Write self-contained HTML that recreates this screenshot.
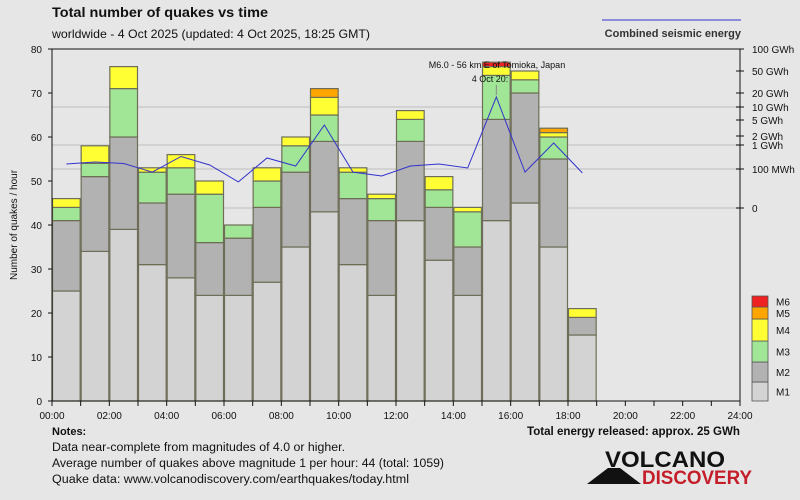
<!DOCTYPE html>
<html><head><meta charset="utf-8"><style>
body{margin:0;background:#e6e6e6;}
svg{display:block;font-family:"Liberation Sans",sans-serif;}
</style></head><body>
<svg id="chart" width="800" height="500" viewBox="0 0 800 500">
<rect width="800" height="500" fill="#e6e6e6"/>
<text x="52" y="17" font-size="13.5" font-weight="bold" fill="#111" textLength="216" lengthAdjust="spacingAndGlyphs">Total number of quakes vs time</text>
<text x="52" y="38" font-size="12" fill="#111" textLength="318" lengthAdjust="spacingAndGlyphs">worldwide -  4 Oct 2025 (updated: 4 Oct 2025, 18:25 GMT)</text>
<line x1="602" y1="20" x2="741" y2="20" stroke="#3333cc" stroke-width="1"/>
<text x="741" y="37" font-size="11" font-weight="bold" fill="#333" text-anchor="end">Combined seismic energy</text>
<text transform="translate(17,225) rotate(-90)" font-size="10" fill="#111" text-anchor="middle">Number of quakes / hour</text>
<g id="grid"></g><g id="bars"></g><g id="energy"></g><g id="axes"></g><g id="legend"></g>
<text x="52" y="435" font-size="11" font-weight="bold" fill="#111">Notes:</text>
<text x="52" y="451" font-size="11.5" fill="#111" textLength="293" lengthAdjust="spacingAndGlyphs">Data near-complete from magnitudes of 4.0 or higher.</text>
<text x="52" y="467" font-size="11.5" fill="#111" textLength="392" lengthAdjust="spacingAndGlyphs">Average number of quakes above magnitude 1 per hour: 44 (total: 1059)</text>
<text x="52" y="483" font-size="11.5" fill="#111" textLength="357" lengthAdjust="spacingAndGlyphs">Quake data: www.volcanodiscovery.com/earthquakes/today.html</text>
<text x="527" y="435" font-size="11.5" font-weight="bold" fill="#111" textLength="213" lengthAdjust="spacingAndGlyphs">Total energy released: approx. 25 GWh</text>
<g>
<polygon points="587,484 608,468 620,468 641,484" fill="#111"/>
<text x="605" y="467" font-size="22" font-weight="bold" fill="#111" textLength="120" lengthAdjust="spacingAndGlyphs">VOLCANO</text>
<text x="642" y="484" font-size="19" font-weight="bold" fill="#c41e2a" textLength="110" lengthAdjust="spacingAndGlyphs">DISCOVERY</text>
</g>
</svg>
<script>
const hours=[0,1,2,3,4,5,6,7,8,9,10,11,12,13,14,15,16,17,18];
const m1=[25,34,39,31,28,24,24,27,35,43,31,24,41,32,24,41,45,35,15];
const m2=[16,17,21,14,19,12,13,17,17,16,15,17,18,12,11,23,25,20,4];
const m3=[3,3,11,7,6,11,3,6,6,6,6,5,5,4,8,10,3,5,0];
const m4=[2,4,5,1,3,3,0,3,2,4,1,1,2,3,1,2,2,1,2];
const m5=[0,0,0,0,0,0,0,0,0,2,0,0,0,0,0,0,0,1,0];
const m6=[0,0,0,0,0,0,0,0,0,0,0,0,0,0,0,1,0,0,0];
const energyMWh=[162,196,170,92,332,147,67,288,133,3757,92,82,133,162,110,16400,92,1167,90];
const yTicks=[0,10,20,30,40,50,60,70,80];
const xTickLabels=["00:00","02:00","04:00","06:00","08:00","10:00","12:00","14:00","16:00","18:00","20:00","22:00","24:00"];
const eTickVals=[0,100,1000,2000,5000,10000,20000,50000,100000];
const eTickLabels=["0","100 MWh","1 GWh","2 GWh","5 GWh","10 GWh","20 GWh","50 GWh","100 GWh"];
const NS="http://www.w3.org/2000/svg";
const X0=52,X1=740,Y0=401,Y1=49;
const eTickPix=[208,169,145,136,120,107,93,71,49];
function xs(h){return X0+(X1-X0)*h/24;}
function ys(v){return Y0-(Y0-Y1)*v/80;}
function ye(v){
  if(v<=100) return eTickPix[0]+(eTickPix[1]-eTickPix[0])*v/100;
  for(let i=1;i<eTickVals.length-1;i++){
    if(v<=eTickVals[i+1]){const a=Math.log10(eTickVals[i]),b=Math.log10(eTickVals[i+1]);
      return eTickPix[i]+(eTickPix[i+1]-eTickPix[i])*(Math.log10(v)-a)/(b-a);}
  }
  return eTickPix[eTickPix.length-1];
}
function mk(p,tag,at){const e=document.createElementNS(NS,tag);for(const k in at)e.setAttribute(k,at[k]);p.appendChild(e);return e;}
const G=id=>document.getElementById(id);
[10000,1000,100,0].forEach(v=>{const l=mk(G('grid'),'line',{x1:X0,x2:X1,y1:ye(v),y2:ye(v),stroke:'#d2d2d2','stroke-width':2});

});
const series=[m1,m2,m3,m4,m5,m6];
const colors=['#d3d3d3','#b2b2b2','#a0e696','#ffff33','#ffa500','#ee2222'];
const snames=['m1','m2','m3','m4','m5','m6'];
const bw=(X1-X0)/24;
hours.forEach((h,i)=>{let c=0;series.forEach((s,k)=>{const v=s[i];if(!v)return;
 const r=mk(G('bars'),'rect',{x:xs(h)+0.5,y:ys(c+v),width:bw-1,height:ys(c)-ys(c+v),fill:colors[k],stroke:'#6e6e58','stroke-width':1.2});
 
 
 c+=v;});});
const pts=hours.map((h,i)=>xs(h+0.5)+','+ye(energyMWh[i])).join(' ');
const pl=mk(G('energy'),'polyline',{points:pts,fill:'none',stroke:'#3333cc','stroke-width':1});


const ax=xs(15.5);
const al=mk(G('energy'),'line',{x1:ax,x2:ax,y1:85,y2:95,stroke:'#888'});


const t1=mk(G('energy'),'text',{x:497,y:68,'font-size':9,'text-anchor':'middle',fill:'#111'});t1.textContent='M6.0 - 56 km E of Tomioka, Japan';


const t2=mk(G('energy'),'text',{x:490,y:82,'font-size':9,'text-anchor':'middle',fill:'#111'});t2.textContent='4 Oct 20:';


const A=G('axes');
[[X0,Y1,X0,Y0],[X0,Y0,X1,Y0],[X0,Y1,X1,Y1],[X1,Y1,X1,Y0]].forEach(([a,b,c,d])=>{const l=mk(A,'line',{x1:a,y1:b,x2:c,y2:d,stroke:'#111','stroke-width':1});

});
yTicks.forEach(v=>{mk(A,'line',{x1:X0-4,x2:X0,y1:ys(v),y2:ys(v),stroke:'#111'});
 const t=mk(A,'text',{x:X0-10,y:ys(v)+4,'font-size':10,'text-anchor':'end',fill:'#111'});t.textContent=v;
 
 });
for(let h=0;h<=24;h++) mk(A,'line',{x1:xs(h),x2:xs(h),y1:Y0,y2:Y0+5,stroke:'#111'});
xTickLabels.forEach((s,i)=>{const t=mk(A,'text',{x:xs(i*2),y:Y0+18,'font-size':10,'text-anchor':'middle',fill:'#111'});t.textContent=s;
 
 });
eTickVals.forEach((v,i)=>{mk(A,'line',{x1:X1-4,x2:X1+4,y1:ye(v),y2:ye(v),stroke:'#111'});
 const t=mk(A,'text',{x:X1+12,y:ye(v)+4,'font-size':10,fill:'#111'});t.textContent=eTickLabels[i];
 
 });
const L=G('legend');const lb=[[401,382],[382,362],[362,341],[341,319],[319,307],[307,296]];
['M1','M2','M3','M4','M5','M6'].forEach((n,k)=>{const [b,t]=lb[k];
 const r=mk(L,'rect',{x:752,y:t,width:16,height:b-t,fill:colors[k],stroke:'#555','stroke-width':0.8});
 
 
 const tx=mk(L,'text',{x:776,y:(t+b)/2+4,'font-size':10,fill:'#111'});tx.textContent=n;
 
 });
</script>
</body></html>
